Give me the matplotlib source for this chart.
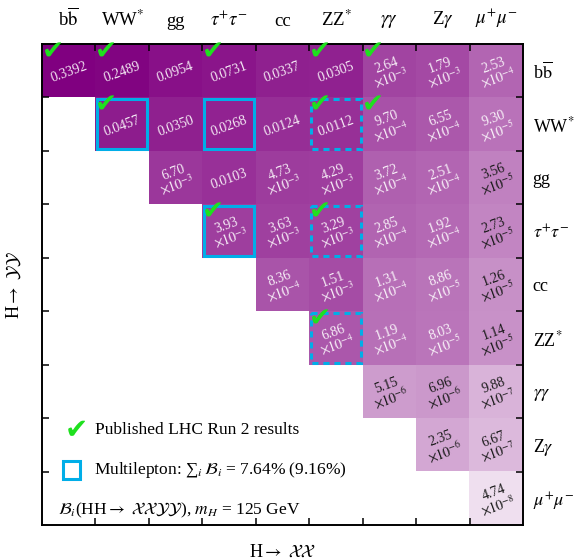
import numpy as np
import matplotlib
matplotlib.use("Agg")
import matplotlib.pyplot as plt
from matplotlib.colors import LinearSegmentedColormap, LogNorm
from matplotlib.patches import Rectangle

plt.rcParams['font.family'] = ['Liberation Serif', 'DejaVu Serif']
plt.rcParams['mathtext.fontset'] = 'stix'

# decay channels (same order for rows and columns)
labels = [r"b$\overline{\mathrm{b}}$", "WW$^{*}$", "gg", r"$\tau^{+}\tau^{-}$", "cc",
          "ZZ$^{*}$", r"$\gamma\gamma$", r"Z$\gamma$", r"$\mu^{+}\mu^{-}$"]

# B(HH -> XX YY), rows = YY, columns = XX (upper triangle only)
nan = np.nan
br = np.array([
    [0.3392, 0.2489, 0.0954, 0.0731, 0.0337, 0.0305, 2.64e-3, 1.79e-3, 2.53e-4],
    [nan, 0.0457, 0.0350, 0.0268, 0.0124, 0.0112, 9.70e-4, 6.55e-4, 9.30e-5],
    [nan, nan, 6.70e-3, 0.0103, 4.73e-3, 4.29e-3, 3.72e-4, 2.51e-4, 3.56e-5],
    [nan, nan, nan, 3.93e-3, 3.63e-3, 3.29e-3, 2.85e-4, 1.92e-4, 2.73e-5],
    [nan, nan, nan, nan, 8.36e-4, 1.51e-3, 1.31e-4, 8.86e-5, 1.26e-5],
    [nan, nan, nan, nan, nan, 6.86e-4, 1.19e-4, 8.03e-5, 1.14e-5],
    [nan, nan, nan, nan, nan, nan, 5.15e-6, 6.96e-6, 9.88e-7],
    [nan, nan, nan, nan, nan, nan, nan, 2.35e-6, 6.67e-7],
    [nan, nan, nan, nan, nan, nan, nan, nan, 4.74e-8],
])

# published LHC Run 2 results (row, col)
published = [(0, 0), (0, 1), (0, 3), (0, 5), (0, 6), (1, 1), (1, 5), (1, 6),
             (3, 3), (3, 5), (5, 5)]
# multilepton channels: solid = 7.64%, dashed = extra for 9.16%
multilep_solid = [(1, 1), (1, 3), (3, 3)]
multilep_dashed = [(1, 5), (3, 5), (5, 5)]

purple = "#800080"
cyan = "#00aee8"
green = "#1fe01f"

cmap = LinearSegmentedColormap.from_list("wp", ["white", purple])
norm = LogNorm(vmin=4.6e-9, vmax=0.3392)

fig = plt.figure(figsize=(5.74, 5.60), dpi=100)
ax = fig.add_axes([0.0732, 0.0625, 0.8379, 0.8589])

ax.imshow(np.ma.masked_invalid(br), cmap=cmap, norm=norm, origin="upper",
          extent=(-0.5, 8.5, 8.5, -0.5), interpolation="nearest")
ax.set_xlim(-0.5, 8.5)
ax.set_ylim(8.5, -0.5)
ax.set_aspect("auto")


def fmt(v):
    if v >= 0.01:
        return f"{v:.4f}"
    e = int(np.floor(np.log10(v)))
    m = v / 10.0 ** e
    return f"{m:.2f}\n" + r"$\times10^{" + str(e) + "}$"


n = len(labels)
for i in range(n):
    for j in range(n):
        v = br[i, j]
        if np.isnan(v):
            continue
        col = "white" if v > 5e-5 else "#1a1a1a"
        ax.text(j, i + 0.03, fmt(v), ha="center", va="center", rotation=20,
                rotation_mode="anchor", fontsize=10, color=col,
                alpha=0.9 if col == "white" else 1.0, linespacing=0.95)

for (i, j) in multilep_solid:
    ax.add_patch(Rectangle((j - 0.47, i - 0.47), 0.94, 0.94, fill=False,
                           edgecolor=cyan, linewidth=2.2, zorder=4))
for (i, j) in multilep_dashed:
    ax.add_patch(Rectangle((j - 0.47, i - 0.47), 0.94, 0.94, fill=False,
                           edgecolor=cyan, linewidth=2.2, linestyle=(0, (2.0, 1.6)),
                           zorder=4))

for (i, j) in published:
    ax.text(j - 0.3, i - 0.34, "\u2714", ha="center", va="center", fontsize=19,
            color=green, family="DejaVu Sans", zorder=6, clip_on=False)

# ticks: labels at centres (top, right), small inward ticks at cell edges
ax.set_xticks(range(n))
ax.set_xticklabels(labels, fontsize=13.5)
ax.set_yticks(range(n))
ax.set_yticklabels(labels, fontsize=13)
ax.tick_params(axis="x", which="major", length=0, top=True, bottom=False,
               labeltop=True, labelbottom=False, pad=10)
ax.tick_params(axis="y", which="major", length=0, left=False, right=True,
               labelleft=False, labelright=True, pad=7)
ax.set_xticks(np.arange(0.5, n - 1, 1), minor=True)
ax.set_yticks(np.arange(0.5, n - 1, 1), minor=True)
ax.tick_params(which="minor", direction="in", length=5, width=1.1,
               top=True, bottom=True, left=True, right=True)
for s in ax.spines.values():
    s.set_linewidth(1.4)

ax.set_xlabel(r"H$\rightarrow$ $\mathcal{XX}$", fontsize=13, labelpad=10)
ax.set_ylabel(r"H$\rightarrow$ $\mathcal{YY}$", fontsize=13, labelpad=10)

# legend-like annotations
ax.text(0.15, 6.72, "\u2714", ha="center", va="center", fontsize=20, color=green,
        family="DejaVu Sans")
ax.text(0.5, 6.72, "Published LHC Run 2 results", ha="left", va="center", fontsize=12.5)
ax.add_patch(Rectangle((-0.1, 7.31), 0.32, 0.32, fill=False, edgecolor=cyan,
                       linewidth=2.2))
ax.text(0.48, 7.47, "Multilepton: \u2211" + r"$_i\,\mathcal{B}_i$ = 7.64% (9.16%)",
        ha="left", va="center", fontsize=12.5)
ax.text(-0.2, 8.22, r"$\mathcal{B}_i$(HH$\rightarrow$ $\mathcal{XXYY}$), $m_H$ = 125 GeV",
        ha="left", va="center", fontsize=12.5)

fig.savefig("out.png", dpi=100)
